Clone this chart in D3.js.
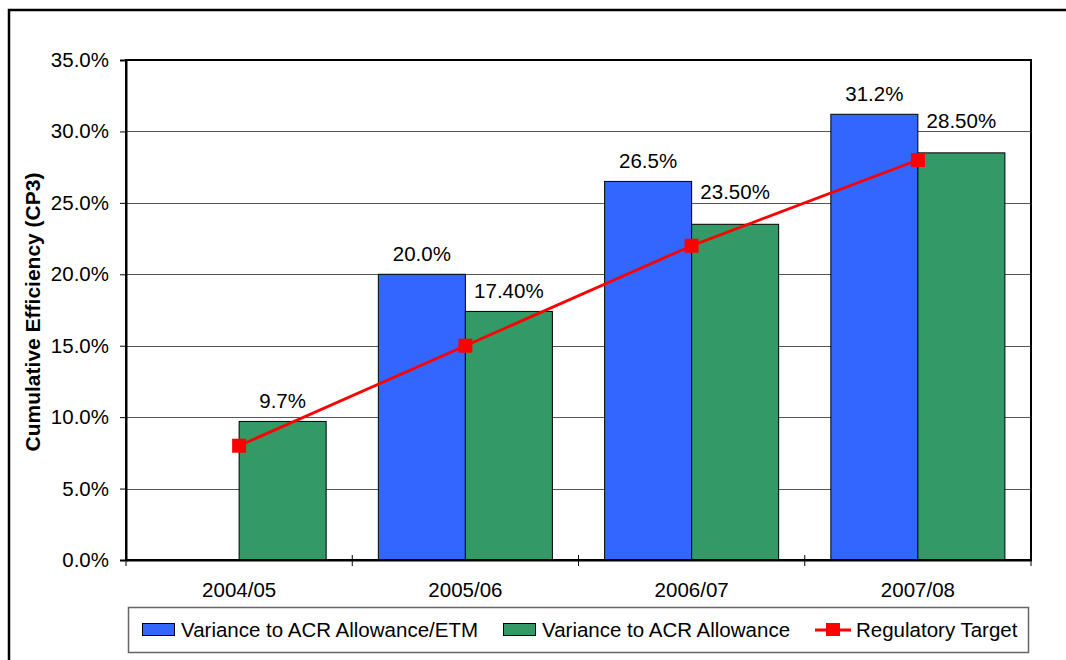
<!DOCTYPE html>
<html>
<head>
<meta charset="utf-8">
<script src="https://cdn.jsdelivr.net/npm/d3@7/dist/d3.min.js"></script>
<style>
  html, body { margin: 0; padding: 0; background: #fff; }
  svg { display: block; }
  text { font-family: "Liberation Sans", Arial, sans-serif; fill: #000; }
</style>
</head>
<body>
<svg id="chart" width="1066" height="660"></svg>
<script>
// ---- Data ----
const categories = ["2004/05", "2005/06", "2006/07", "2007/08"];
const etmValues = [null, 20.0, 26.5, 31.2];          // Variance to ACR Allowance/ETM
const acrValues = [9.7, 17.4, 23.5, 28.5];           // Variance to ACR Allowance
const targetValues = [8, 15, 22, 28];                // Regulatory Target
const etmLabels = ["", "20.0%", "26.5%", "31.2%"];
const acrLabels = ["9.7%", "17.40%", "23.50%", "28.50%"];
const yTicks = [0, 5, 10, 15, 20, 25, 30, 35];
const seriesNames = ["Variance to ACR Allowance/ETM", "Variance to ACR Allowance", "Regulatory Target"];

// ---- Layout ----
const W = 1066, H = 660;
const plot = { left: 126, top: 60, right: 1031, bottom: 560 };
const colors = { etm: "#3366FF", acr: "#339966", target: "#FF0000" };
const FONT = 20.5;
// manual upward nudges applied to some ACR labels (as in the original)
const acrLabelLift = [0, 0, 12, 12];

const svg = d3.select("#chart");
svg.append("rect").attr("width", W).attr("height", H).attr("fill", "#fff");

// outer chart frame (extends past the right/bottom edge)
svg.append("rect")
  .attr("x", 9).attr("y", 10).attr("width", 1200).attr("height", 800)
  .attr("fill", "none").attr("stroke", "#000").attr("stroke-width", 2.5);

const x = d3.scaleBand().domain(categories).range([plot.left, plot.right]).paddingInner(0).paddingOuter(0);
const sub = d3.scaleBand().domain(["etm", "acr"]).range([0, x.bandwidth()]).paddingInner(0).paddingOuter(0.3);
const y = d3.scaleLinear().domain([0, 35]).range([plot.bottom, plot.top]);

// gridlines
svg.append("g").selectAll("line").data(yTicks.filter(t => t > 0 && t < 35)).join("line")
  .attr("x1", plot.left).attr("x2", plot.right)
  .attr("y1", d => Math.round(y(d)) + 0.5).attr("y2", d => Math.round(y(d)) + 0.5)
  .attr("stroke", "#555").attr("stroke-width", 1);

// bars
const rows = categories.map((c, i) => ({ c, i, etm: etmValues[i], acr: acrValues[i], target: targetValues[i] }));
const barG = svg.append("g");
barG.selectAll("rect.etm").data(rows.filter(r => r.etm != null)).join("rect")
  .attr("class", "etm")
  .attr("x", d => x(d.c) + sub("etm")).attr("width", sub.bandwidth())
  .attr("y", d => y(d.etm)).attr("height", d => y(0) - y(d.etm))
  .attr("fill", colors.etm).attr("stroke", "#000").attr("stroke-width", 1);
barG.selectAll("rect.acr").data(rows).join("rect")
  .attr("class", "acr")
  .attr("x", d => x(d.c) + sub("acr")).attr("width", sub.bandwidth())
  .attr("y", d => y(d.acr)).attr("height", d => y(0) - y(d.acr))
  .attr("fill", colors.acr).attr("stroke", "#000").attr("stroke-width", 1);

// target line
const cx = c => x(c) + x.bandwidth() / 2;
svg.append("path").datum(rows)
  .attr("d", d3.line().x(d => cx(d.c)).y(d => y(d.target)))
  .attr("fill", "none").attr("stroke", colors.target).attr("stroke-width", 2.8);
svg.append("g").selectAll("rect").data(rows).join("rect")
  .attr("x", d => cx(d.c) - 7).attr("y", d => y(d.target) - 7)
  .attr("width", 14).attr("height", 14).attr("fill", colors.target);

// data labels
const lblG = svg.append("g").attr("font-size", FONT).attr("text-anchor", "middle");
lblG.selectAll("text.etm").data(rows.filter(r => r.etm != null)).join("text")
  .attr("class", "etm")
  .attr("x", d => x(d.c) + sub("etm") + sub.bandwidth() / 2)
  .attr("y", d => y(d.etm) - 13)
  .text(d => etmLabels[d.i]);
lblG.selectAll("text.acr").data(rows).join("text")
  .attr("class", "acr")
  .attr("x", d => x(d.c) + sub("acr") + sub.bandwidth() / 2)
  .attr("y", d => y(d.acr) - 13 - acrLabelLift[d.i])
  .text(d => acrLabels[d.i]);

// plot border (top/right)
svg.append("rect")
  .attr("x", plot.left).attr("y", plot.top)
  .attr("width", plot.right - plot.left).attr("height", plot.bottom - plot.top)
  .attr("fill", "none").attr("stroke", "#000").attr("stroke-width", 2);

// y axis
const yAxis = svg.append("g").attr("transform", `translate(${plot.left},0)`)
  .call(d3.axisLeft(y).tickValues(yTicks).tickSize(6).tickPadding(11).tickFormat(d => d.toFixed(1) + "%"));
yAxis.select(".domain").attr("stroke", "#000").attr("stroke-width", 2);
yAxis.selectAll(".tick line").attr("stroke", "#000").attr("stroke-width", 1);
yAxis.selectAll(".tick text").attr("font-size", FONT).attr("font-family", "Liberation Sans, Arial, sans-serif");

// x axis
const xAxis = svg.append("g").attr("transform", `translate(0,${plot.bottom})`)
  .call(d3.axisBottom(x).tickSize(0).tickPadding(22));
xAxis.select(".domain").attr("stroke", "#000").attr("stroke-width", 2);
xAxis.selectAll(".tick text").attr("font-size", FONT).attr("font-family", "Liberation Sans, Arial, sans-serif");
const boundaries = categories.map(c => x(c)).concat([x(categories[categories.length - 1]) + x.bandwidth()]);
svg.append("g").selectAll("line").data(boundaries).join("line")
  .attr("x1", d => d).attr("x2", d => d)
  .attr("y1", plot.bottom - 5).attr("y2", plot.bottom + 6)
  .attr("stroke", "#000").attr("stroke-width", 1);

// y axis title
svg.append("text")
  .attr("transform", `translate(40,${(plot.top + plot.bottom) / 2 + 2}) rotate(-90)`)
  .attr("text-anchor", "middle").attr("font-weight", "bold").attr("font-size", 21)
  .text("Cumulative Efficiency (CP3)");

// legend
const lg = svg.append("g");
lg.append("rect").attr("x", 128.5).attr("y", 607.5).attr("width", 900).attr("height", 45)
  .attr("fill", "#fff").attr("stroke", "#666").attr("stroke-width", 1.5);
const legendItems = [
  { name: seriesNames[0], type: "bar", color: colors.etm, x: 142 },
  { name: seriesNames[1], type: "bar", color: colors.acr, x: 503 },
  { name: seriesNames[2], type: "line", color: colors.target, x: 815 }
];
const ly = 630;
legendItems.forEach(it => {
  if (it.type === "bar") {
    lg.append("rect").attr("x", it.x + 0.5).attr("y", ly - 6.5).attr("width", 32).attr("height", 12)
      .attr("fill", it.color).attr("stroke", "#000").attr("stroke-width", 1);
    lg.append("text").attr("x", it.x + 39).attr("y", ly + 7).attr("font-size", FONT).text(it.name);
  } else {
    lg.append("line").attr("x1", it.x).attr("x2", it.x + 36).attr("y1", ly).attr("y2", ly)
      .attr("stroke", it.color).attr("stroke-width", 2.8);
    lg.append("rect").attr("x", it.x + 11).attr("y", ly - 7).attr("width", 14).attr("height", 13).attr("fill", it.color);
    lg.append("text").attr("x", it.x + 41).attr("y", ly + 7).attr("font-size", FONT).text(it.name);
  }
});
</script>
</body>
</html>
